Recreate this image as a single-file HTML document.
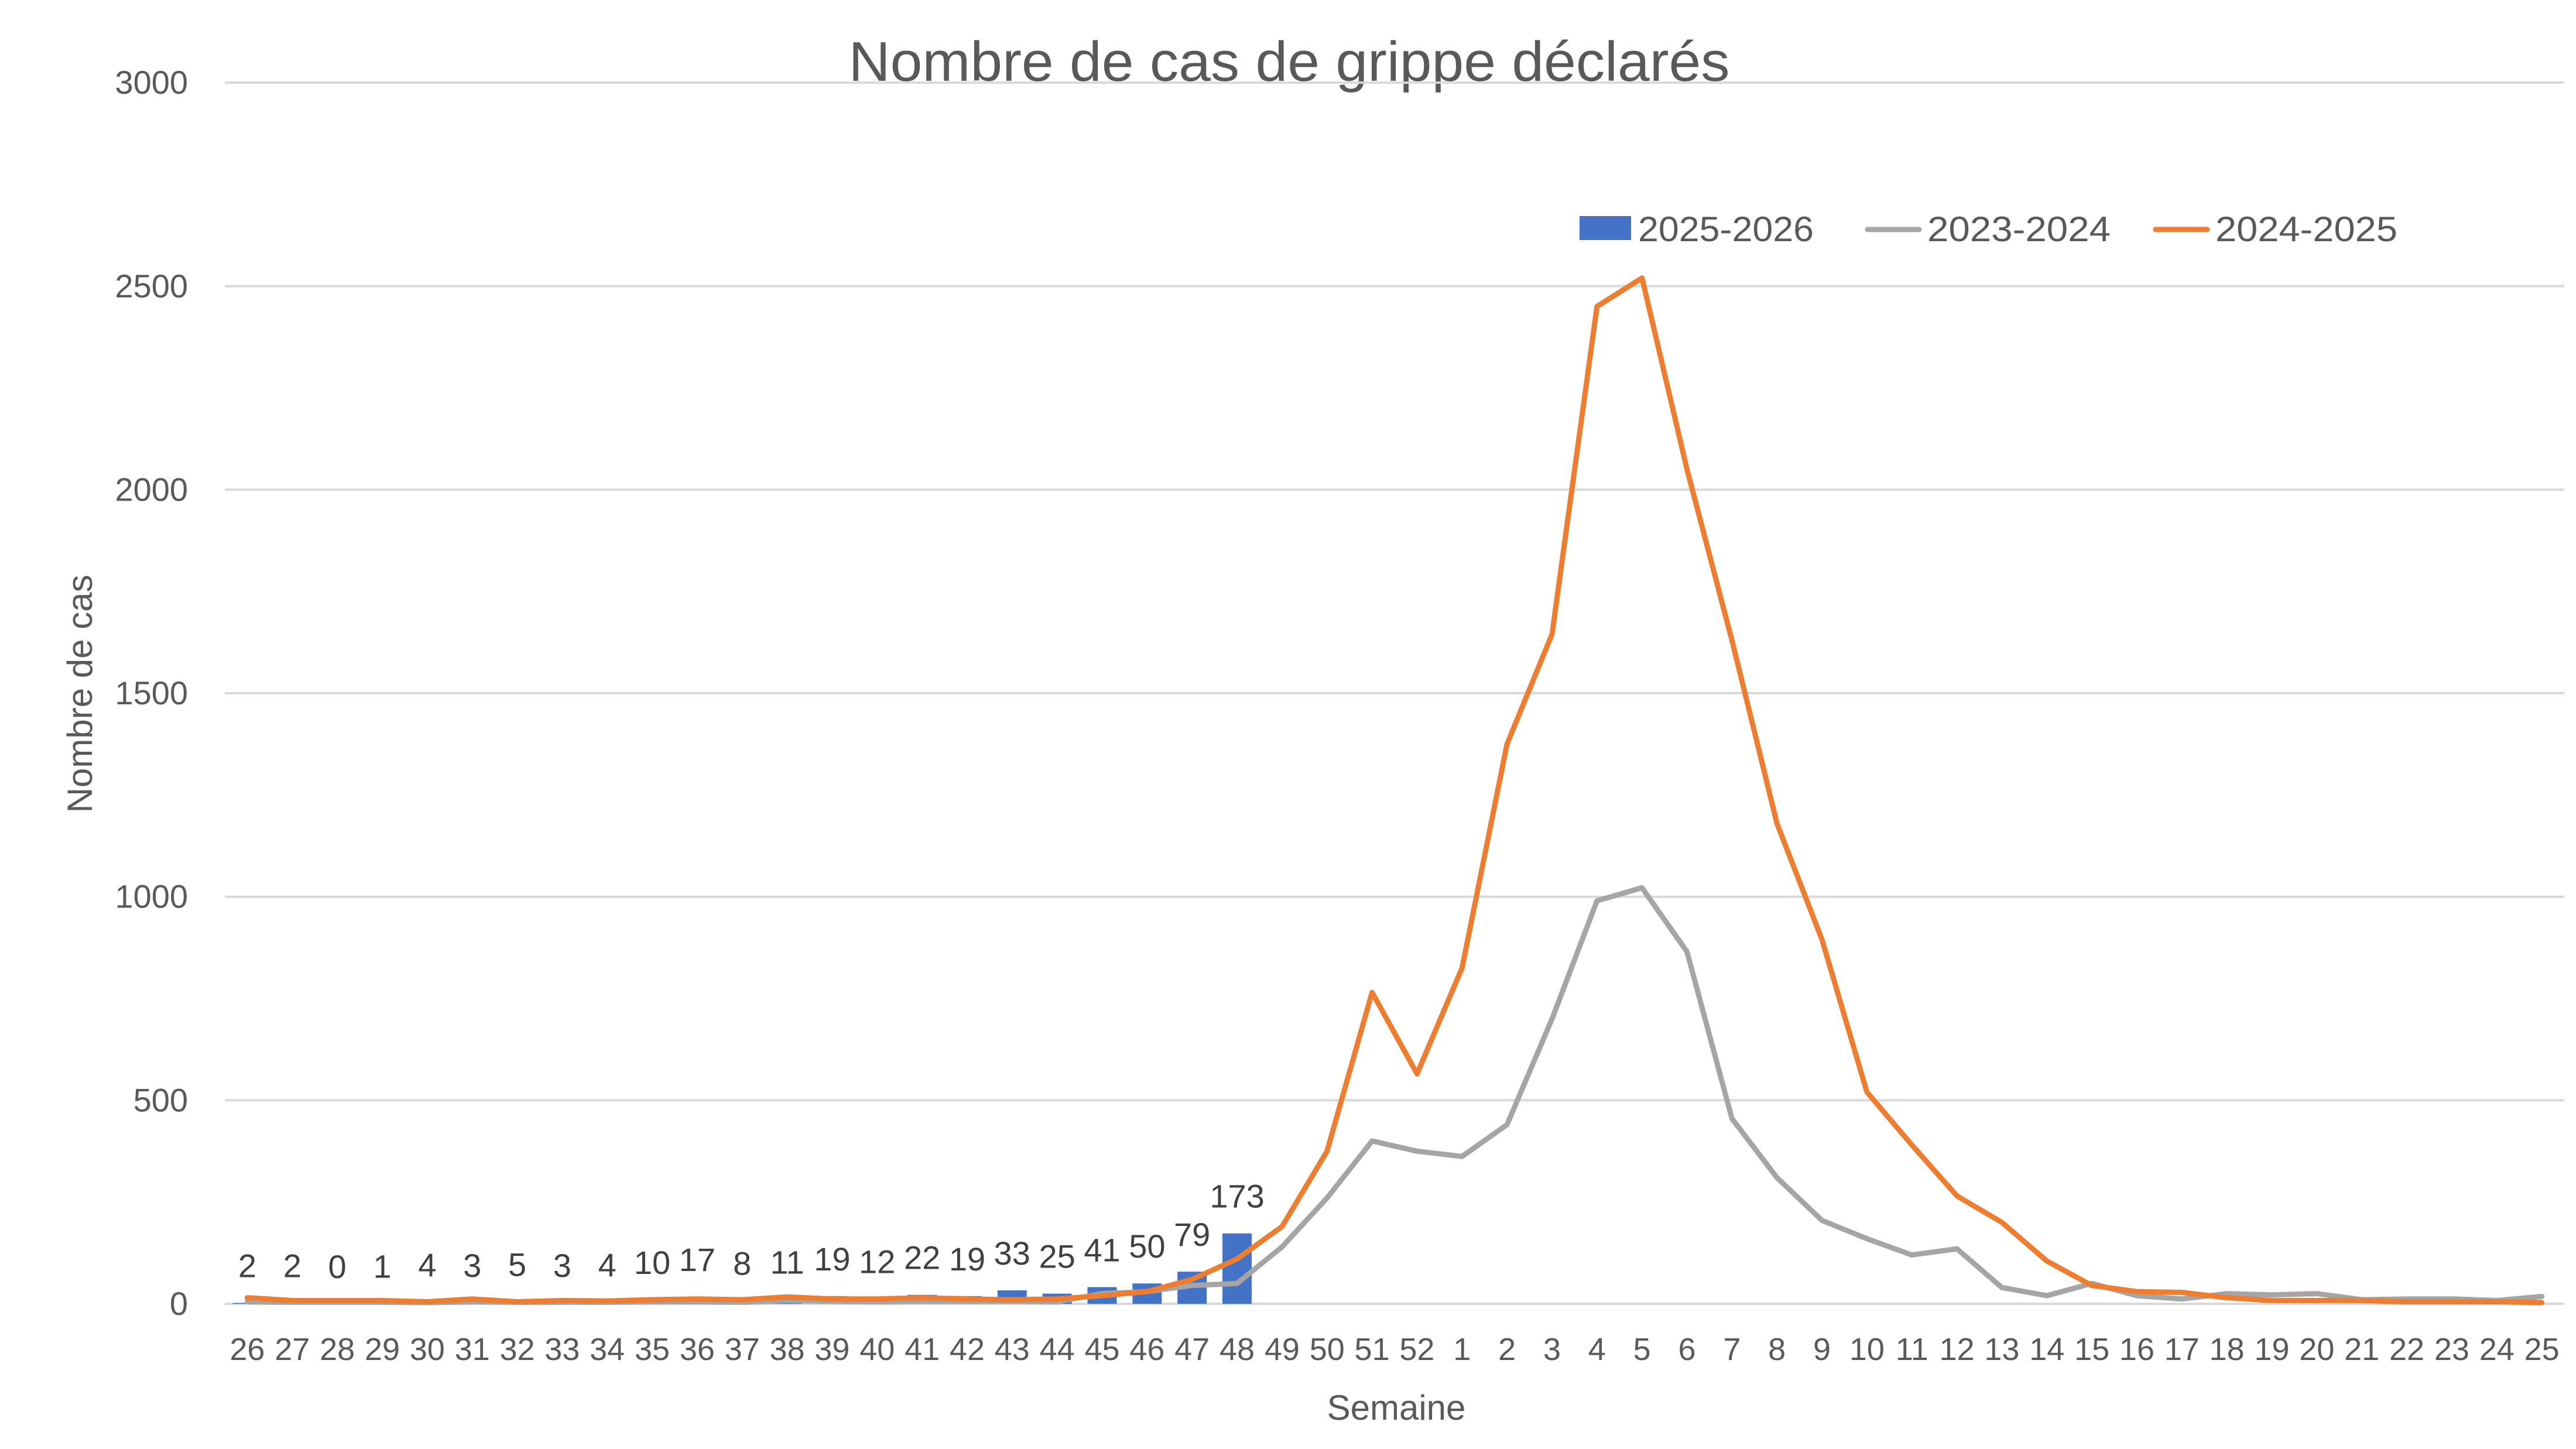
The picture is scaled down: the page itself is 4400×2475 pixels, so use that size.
<!DOCTYPE html>
<html><head><meta charset="utf-8"><style>
html,body{margin:0;padding:0;background:#fff;}
svg{display:block;}
text{font-family:"Liberation Sans",sans-serif;fill:#595959;}
</style></head><body>
<svg id="c" width="4400" height="2475" viewBox="0 0 4400 2475" xmlns="http://www.w3.org/2000/svg">
<rect width="4400" height="2475" fill="#fff"/>
<text x="2202" y="138" font-size="96" text-anchor="middle" textLength="1505" lengthAdjust="spacingAndGlyphs">Nombre de cas de grippe déclarés</text>
<g id="grid"></g>
<g id="bars"></g>
<g id="lines"></g>
<g id="labels"></g>
<rect x="2698" y="369" width="88" height="41" fill="#4472C4"/>
<text x="2798" y="412" font-size="60" textLength="300" lengthAdjust="spacingAndGlyphs">2025-2026</text>
<line x1="3190" y1="392" x2="3278" y2="392" stroke="#A5A5A5" stroke-width="9" stroke-linecap="round"/>
<text x="3292" y="412" font-size="60" textLength="313" lengthAdjust="spacingAndGlyphs">2023-2024</text>
<line x1="3682" y1="392" x2="3770" y2="392" stroke="#ED7D31" stroke-width="9" stroke-linecap="round"/>
<text x="3784" y="412" font-size="60" textLength="311" lengthAdjust="spacingAndGlyphs">2024-2025</text>
<text x="2385" y="2425" font-size="60" text-anchor="middle">Semaine</text>
<text transform="translate(157,1185) rotate(-90)" font-size="60" text-anchor="middle">Nombre de cas</text>
</svg>
<script>
var NS="http://www.w3.org/2000/svg";
function el(p,n,a,t){var e=document.createElementNS(NS,n);for(var k in a)e.setAttribute(k,a[k]);if(t!==undefined)e.textContent=t;document.getElementById(p).appendChild(e);return e;}
var x0=384,x1=4380,y0=2227,k=0.6953;
var cats=[];for(var i=26;i<=52;i++)cats.push(i);for(var i=1;i<=25;i++)cats.push(i);
var w=(x1-x0)/52;
function cx(i){return x0+w*(i+0.5);}
function cy(v){return y0-v*k;}
for(var g=0;g<=6;g++){var y=y0-g*500*k;
 el("grid","line",{x1:x0,x2:x1,y1:y,y2:y,stroke:"#D9D9D9","stroke-width":4});
 el("grid","text",{x:321,y:y+19,"font-size":56,"text-anchor":"end"},String(g*500));}
for(var i=0;i<52;i++)el("grid","text",{x:cx(i),y:2323,"font-size":54,"text-anchor":"middle"},String(cats[i]));
var bars=[2,2,0,1,4,3,5,3,4,10,17,8,11,19,12,22,19,33,25,41,50,79,173];
for(var i=0;i<bars.length;i++){var v=bars[i];
 el("bars","rect",{x:cx(i)-25,y:cy(v),width:50,height:v*k,fill:"#4472C4"});
 el("labels","text",{x:cx(i),y:cy(v)-44,"font-size":56,"text-anchor":"middle",fill:"#404040",style:"fill:#404040"},String(v));}
var gray=[5,4,4,4,3,5,4,4,4,5,5,4,8,6,5,6,6,6,5,25,30,45,50,140,260,400,375,362,440,700,990,1022,865,455,310,205,160,120,135,40,20,50,20,12,25,22,25,10,12,12,8,18];
var orng=[15,8,8,8,5,12,5,8,7,10,12,10,17,12,12,15,12,10,12,20,30,60,110,190,375,765,565,825,1375,1645,2450,2520,2050,1630,1180,895,520,390,265,200,105,45,30,28,15,8,8,8,5,5,5,3];
function pts(a){return a.map(function(v,i){return cx(i).toFixed(1)+","+cy(v).toFixed(1);}).join(" ");}
el("lines","polyline",{points:pts(gray),fill:"none",stroke:"#A5A5A5","stroke-width":9,"stroke-linejoin":"round","stroke-linecap":"round"});
el("lines","polyline",{points:pts(orng),fill:"none",stroke:"#ED7D31","stroke-width":9,"stroke-linejoin":"round","stroke-linecap":"round"});
</script>
</body></html>
